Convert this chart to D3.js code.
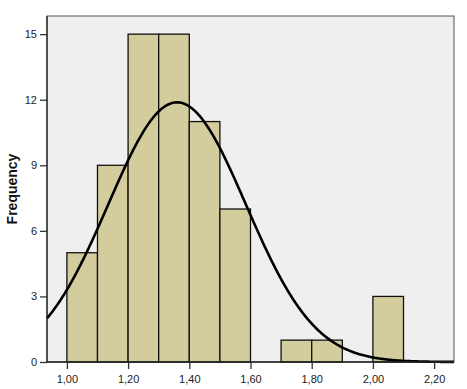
<!DOCTYPE html>
<meta charset="utf-8">
<style>
    body { margin: 0; background: #fff; }
    text { font-family: "Liberation Sans", Arial, sans-serif; }
</style>
<svg id="chart" width="467" height="389"></svg>
<script src="https://cdn.jsdelivr.net/npm/d3@7/dist/d3.min.js"></script>
<script>
    // histogram bins (lower edge) and counts
    var binStarts = [1.0, 1.1, 1.2, 1.3, 1.4, 1.5, 1.6, 1.7, 1.8, 1.9, 2.0];
    var counts = [5, 9, 15, 15, 11, 7, 0, 1, 1, 0, 3];
    var binWidth = 0.1;
    var xTicks = [1.0, 1.2, 1.4, 1.6, 1.8, 2.0, 2.2];
    var yTicks = [0, 3, 6, 9, 12, 15];
    // fitted normal
    var mean = 1.36, sd = 0.225;

    var svg = d3.select("#chart");
    // plot box (note: "top" is reserved on window, so use a box object)
    var box = { l: 47, t: 16, r: 454, b: 362 };

    var x = d3.scaleLinear().domain([0.935, 2.265]).range([box.l, box.r]);
    var y = d3.scaleLinear().domain([0, 15.83]).range([box.b, box.t]);

    svg.append("rect")
        .attr("x", box.l).attr("y", box.t)
        .attr("width", box.r - box.l).attr("height", box.b - box.t)
        .attr("fill", "#efefef")
        .attr("stroke", "#555").attr("stroke-width", 1);

    var bars = binStarts.map((b, i) => ({ x0: b, x1: b + binWidth, n: counts[i] })).filter(d => d.n > 0);
    svg.append("g").selectAll("rect").data(bars).join("rect")
        .attr("x", d => x(d.x0))
        .attr("y", d => y(d.n))
        .attr("width", d => x(d.x1) - x(d.x0))
        .attr("height", d => y(0) - y(d.n))
        .attr("fill", "#d3cd9e")
        .attr("stroke", "#111")
        .attr("stroke-width", 1.3);

    var N = d3.sum(counts);
    var pts = d3.range(0, 401).map(i => {
        var v = 0.935 + i * (2.265 - 0.935) / 400;
        var z = (v - mean) / sd;
        return [v, N * binWidth / (sd * Math.sqrt(2 * Math.PI)) * Math.exp(-0.5 * z * z)];
    });
    svg.append("path")
        .datum(pts)
        .attr("d", d3.line().x(d => x(d[0])).y(d => y(d[1])))
        .attr("fill", "none")
        .attr("stroke", "#000")
        .attr("stroke-width", 2.6);

    var fmt = d => d.toFixed(2).replace(".", ",");
    var xAxis = svg.append("g")
        .attr("transform", "translate(0," + box.b + ")")
        .call(d3.axisBottom(x).tickValues(xTicks).tickFormat(fmt).tickSize(7).tickPadding(6));
    var yAxis = svg.append("g")
        .attr("transform", "translate(" + box.l + ",0)")
        .call(d3.axisLeft(y).tickValues(yTicks).tickSize(7).tickPadding(3));

    [xAxis, yAxis].forEach(a => {
        a.select(".domain").attr("stroke", "#222").attr("stroke-width", 1.3);
        a.selectAll(".tick line").attr("stroke", "#333").attr("stroke-width", 1.3);
        a.selectAll("text").attr("fill", "#222").style("font-size", "11px")
            .style("font-family", "'Liberation Sans', Arial, sans-serif");
    });
    xAxis.select(".domain").attr("d", "M" + box.l + ",0H" + box.r);
    yAxis.select(".domain").attr("d", "M0," + box.t + "V" + box.b);

    svg.append("text")
        .attr("transform", "translate(17," + ((box.t + box.b) / 2) + ") rotate(-90)")
        .attr("text-anchor", "middle")
        .attr("font-weight", "bold")
        .attr("font-size", "14px")
        .attr("fill", "#111")
        .text("Frequency");
</script>
